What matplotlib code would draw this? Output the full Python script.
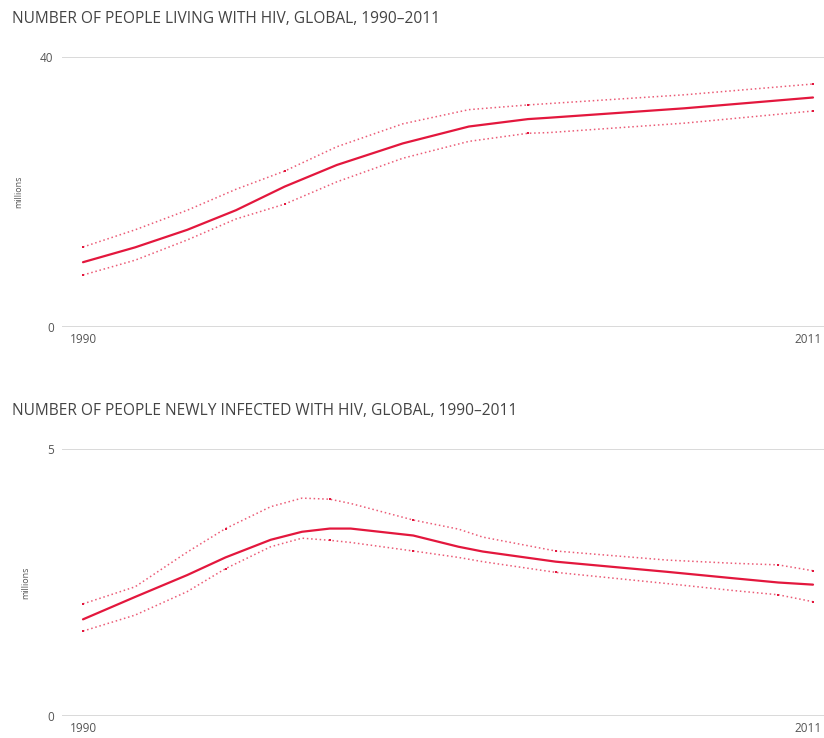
import matplotlib.pyplot as plt
from matplotlib.transforms import ScaledTranslation

RED = '#e3173d'
GRID = '#d9d9d9'
TEXT = '#444444'

# people living with HIV, millions
living_years = [1990, 1991.5, 1993, 1994.4, 1995.8, 1997.3, 1999.2, 2001.1, 2002.8, 2003.4, 2007.3, 2011]
living_est = [9.6, 11.8, 14.4, 17.3, 20.8, 24.0, 27.2, 29.7, 30.8, 31.0, 32.4, 34.0]
living_high = [11.85, 14.4, 17.3, 20.4, 23.1, 26.7, 30.1, 32.2, 32.9, 33.1, 34.4, 36.0]
living_low = [7.7, 9.9, 12.9, 16.0, 18.2, 21.5, 25.0, 27.5, 28.7, 28.8, 30.2, 32.0]
living_marks = [0, 4, 8, 11]

# people newly infected with HIV, millions
new_years = [1990, 1991.5, 1993, 1994.1, 1995.4, 1996.3, 1997.1, 1997.7, 1999.5, 2000.8,
             2001.5, 2003.6, 2006.8, 2008.7, 2010, 2011]
new_est = [1.81, 2.23, 2.64, 2.97, 3.30, 3.45, 3.51, 3.51, 3.38, 3.17,
           3.08, 2.89, 2.70, 2.58, 2.50, 2.46]
new_high = [2.10, 2.42, 3.07, 3.51, 3.92, 4.08, 4.06, 3.98, 3.67, 3.50,
            3.35, 3.09, 2.92, 2.86, 2.83, 2.72]
new_low = [1.59, 1.89, 2.33, 2.76, 3.17, 3.33, 3.29, 3.25, 3.09, 2.97,
           2.89, 2.69, 2.48, 2.35, 2.27, 2.14]
new_marks = [0, 3, 6, 8, 11, 14, 15]

plt.rcParams['font.family'] = ['Open Sans', 'DejaVu Sans']

W, H = 824, 738
fig = plt.figure(figsize=(W / 100, H / 100), dpi=100)


def panel(top_px, bottom_px, title, years, est, high, low, marks, ymax):
    ax = fig.add_axes([62 / W, (H - bottom_px) / H, 762 / W, (bottom_px - top_px) / H])
    ax.set_xlim(1990 - 21 / 34.76, 2011 + 11 / 34.76)
    ax.set_ylim(0, ymax)

    for s in ax.spines.values():
        s.set_visible(False)
    for y in (0, ymax):
        ax.axhline(y, color=GRID, lw=1.4, zorder=0)

    ax.plot(years, est, color=RED, lw=1.6, solid_capstyle='round', solid_joinstyle='round')
    for band in (high, low):
        ax.plot(years, band, color=RED, lw=1.1, ls=(0, (1, 1.8)), alpha=0.7)
        ax.plot([years[i] for i in marks], [band[i] for i in marks], ls='none',
                marker='s', ms=2.1, color=RED, mew=0)

    ax.set_yticks([0, ymax])
    ax.set_yticklabels(['0', str(ymax)])
    ax.set_xticks([1990, 2011])
    ax.tick_params(length=0, labelsize=8.5, labelcolor='#555555')
    ax.tick_params(axis='y', pad=6)
    ax.tick_params(axis='x', pad=4)
    # keep the last year label inside the figure edge
    last = ax.get_xticklabels()[-1]
    last.set_transform(last.get_transform() + ScaledTranslation(-0.05, 0, fig.dpi_scale_trans))
    ax.set_ylabel('millions', fontsize=6.5, color='#555555', labelpad=12)

    fig.text(12 / W, (H - top_px + 38) / H, title, fontsize=11.2, color=TEXT,
             ha='left', va='center')
    return ax


panel(57, 327, 'NUMBER OF PEOPLE LIVING WITH HIV, GLOBAL, 1990–2011',
      living_years, living_est, living_high, living_low, living_marks, 40)
panel(449, 716, 'NUMBER OF PEOPLE NEWLY INFECTED WITH HIV, GLOBAL, 1990–2011',
      new_years, new_est, new_high, new_low, new_marks, 5)

fig.savefig('out.png', dpi=100)
